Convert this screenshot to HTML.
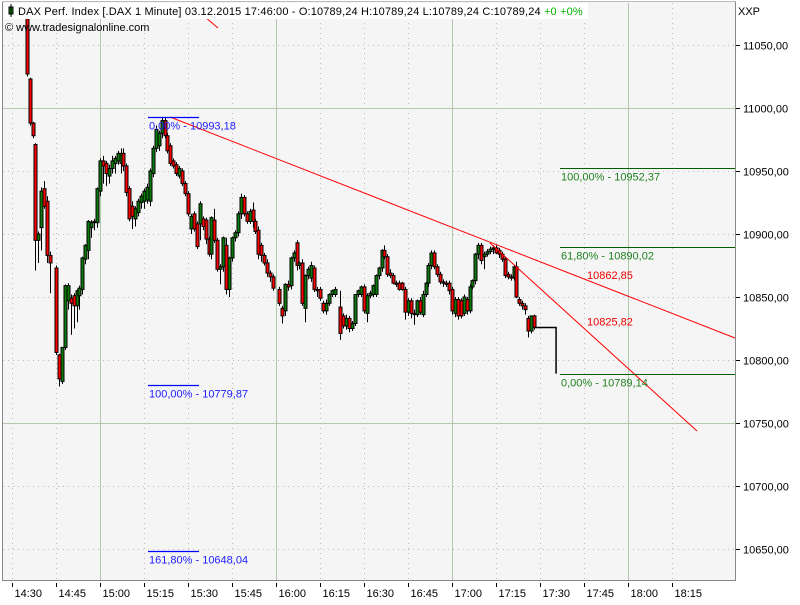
<!DOCTYPE html>
<html><head><meta charset="utf-8"><style>
body{margin:0;background:#fff;width:800px;height:600px;overflow:hidden;font-family:"Liberation Sans",sans-serif}
svg text{font-family:"Liberation Sans",sans-serif;font-size:11px}
</style></head><body>
<svg id="chart" width="800" height="600" xmlns="http://www.w3.org/2000/svg">
<rect x="2" y="2" width="733" height="578" fill="#f5f5f5"/>
<g id="grid"></g>
<g id="candles"></g>
<g id="overlay"></g>
<line x1="735.5" y1="2" x2="735.5" y2="580" stroke="#888"/>
<line x1="2" y1="580.5" x2="736" y2="580.5" stroke="#888"/>
<line x1="2.5" y1="2" x2="2.5" y2="580" stroke="#888"/>
<line x1="2" y1="1.5" x2="736" y2="1.5" stroke="#bbb"/>
<rect x="4" y="3" width="584" height="16" fill="#fff"/>
<rect x="9" y="7" width="4" height="7" fill="#108010" stroke="#000" stroke-width="1"/>
<line x1="11" y1="4" x2="11" y2="17" stroke="#000"/>
<text x="18" y="15" fill="#000" letter-spacing="0.15">DAX Perf. Index [.DAX  1 Minute] 03.12.2015 17:46:00 - O:10789,24 H:10789,24 L:10789,24 C:10789,24 <tspan fill="#00b000">+0 +0%</tspan></text>
<text x="5" y="31" fill="#000">© www.tradesignalonline.com</text>
<text x="738" y="15" fill="#000">XXP</text>
<g id="axes"></g>
</svg>
<script>
const times=[5,6,7,8,9,10,11,12,13,15,16,17,18,19,20,21,22,23,24,25,26,27,28,29,30,31,32,33,34,35,36,37,38,39,40,41,42,43,44,45,46,47,48,49,50,51,52,53,54,55,56,57,58,59,60,61,62,63,64,65,66,67,68,69,70,71,72,73,74,75,76,77,78,79,80,81,82,83,84,85,86,87,88,89,91,92,93,94,95,96,97,98,99,100,101,102,103,104,105,106,107,108,109,110,112,113,114,115,116,117,118,119,120,121,122,123,124,125,126,127,128,129,130,131,132,133,134,135,136,137,138,139,140,141,142,143,144,145,146,147,148,149,150,151,152,153,154,155,156,157,158,159,160,161,162,163,164,165,166,167,168,169,170,171,172,173,174,175,176,177,178];
const opens=[11081,11023,10988,10971,10895,10905,10936,10926,10883,10873,10804,10783,10810,10847,10849,10851,10843,10851,10856,10880,10887,10905,10909,10909,10934,10958,10956,10946,10952,10956,10958,10956,10964,10954,10936,10922,10912,10917,10925,10926,10927,10926,10948,10968,10970,10980,10990,10978,10970,10958,10955,10946,10950,10940,10932,10904,10916,10908,10908,10912,10911,10896,10884,10911,10895,10872,10874,10891,10856,10881,10897,10901,10916,10929,10916,10910,10919,10910,10903,10891,10883,10877,10869,10866,10856,10841,10839,10860,10859,10881,10893,10875,10877,10841,10867,10865,10873,10856,10856,10845,10839,10845,10852,10852,10842,10835,10827,10833,10825,10829,10852,10852,10858,10837,10851,10852,10852,10867,10873,10887,10882,10869,10867,10861,10861,10861,10856,10838,10847,10837,10836,10847,10836,10852,10861,10875,10885,10874,10868,10862,10861,10861,10856,10837,10848,10847,10837,10848,10839,10858,10863,10884,10891,10882,10884,10886,10888,10889,10887,10884,10880,10868,10866,10865,10874,10848,10845,10843,10833,10823,10835];
const highs=[11083,11024,10989,10972,10902,10937,10942,10930,10886,10875,10805,10810,10860,10861,10852,10853,10856,10859,10882,10892,10911,10911,10912,10937,10960,10962,10958,10955,10962,10962,10966,10968,10968,10956,10938,10926,10922,10928,10932,10936,10940,10952,10970,10986,10982,10993,10993,10980,10972,10960,10957,10954,10952,10942,10934,10916,10918,10910,10926,10914,10913,10898,10914,10920,10897,10876,10898,10897,10882,10898,10903,10918,10932,10931,10918,10920,10925,10912,10906,10893,10885,10880,10871,10868,10858,10843,10861,10863,10882,10887,10895,10878,10880,10868,10874,10878,10875,10858,10858,10847,10848,10853,10856,10858,10855,10837,10836,10835,10831,10852,10856,10859,10860,10853,10855,10860,10868,10874,10888,10891,10884,10872,10869,10863,10863,10862,10858,10849,10849,10840,10848,10850,10855,10862,10877,10887,10887,10876,10870,10864,10863,10863,10858,10850,10850,10849,10852,10850,10860,10864,10885,10893,10893,10886,10888,10890,10891,10891,10889,10886,10882,10870,10868,10875,10878,10850,10847,10845,10835,10835,10836];
const lows=[11025,10986,10976,10871,10877,10887,10920,10877,10853,10804,10779,10781,10808,10840,10820,10825,10830,10840,10852,10876,10880,10897,10903,10905,10930,10940,10938,10940,10948,10948,10955,10948,10950,10930,10910,10904,10906,10914,10920,10920,10924,10922,10945,10965,10966,10976,10976,10964,10954,10952,10946,10944,10938,10930,10914,10900,10902,10888,10895,10903,10892,10882,10880,10893,10870,10860,10870,10852,10850,10878,10894,10898,10912,10914,10908,10908,10905,10900,10880,10878,10875,10866,10862,10855,10843,10829,10835,10855,10856,10878,10871,10872,10843,10830,10864,10862,10854,10850,10847,10837,10836,10843,10850,10850,10816,10825,10824,10822,10823,10827,10850,10850,10837,10830,10849,10850,10850,10864,10870,10880,10866,10865,10860,10858,10855,10855,10832,10835,10833,10828,10834,10836,10834,10850,10858,10872,10872,10866,10860,10858,10858,10852,10836,10834,10832,10833,10835,10836,10837,10856,10860,10880,10876,10872,10882,10884,10884,10884,10881,10878,10865,10864,10863,10863,10849,10843,10840,10836,10818,10821,10824];
const closes=[11027,10988,10978,10895,10900,10934,10922,10883,10877,10806,10785,10810,10859,10859,10845,10843,10855,10857,10881,10891,10910,10909,10910,10936,10958,10954,10948,10952,10958,10960,10964,10964,10954,10933,10912,10914,10920,10926,10930,10934,10937,10950,10968,10983,10980,10990,10978,10966,10956,10954,10948,10952,10940,10932,10916,10914,10904,10890,10924,10906,10896,10884,10913,10895,10872,10874,10897,10856,10881,10897,10901,10916,10929,10916,10910,10918,10910,10902,10884,10883,10877,10869,10866,10857,10845,10835,10860,10858,10881,10885,10875,10877,10845,10867,10872,10875,10856,10855,10849,10839,10845,10852,10855,10856,10821,10827,10833,10825,10829,10852,10855,10858,10839,10851,10853,10859,10867,10873,10887,10882,10868,10867,10861,10860,10856,10856,10838,10847,10837,10836,10847,10838,10852,10861,10875,10885,10874,10868,10862,10861,10860,10855,10839,10848,10835,10835,10850,10839,10858,10863,10884,10891,10879,10884,10886,10888,10889,10885,10884,10880,10867,10866,10865,10874,10850,10845,10843,10840,10823,10835,10825.82];
const lastPrice=10789.14;
const yTicks=[11050,11000,10950,10900,10850,10800,10750,10700,10650];
const yTickLabels=["11050,00","11000,00","10950,00","10900,00","10850,00","10800,00","10750,00","10700,00","10650,00"];
const xTicks=[0,15,30,45,60,75,90,105,120,135,150,165,180,195,210,225];
const xTickLabels=["14:30","14:45","15:00","15:15","15:30","15:45","16:00","16:15","16:30","16:45","17:00","17:15","17:30","17:45","18:00","18:15"];
const fibBlue=[[0,10993.18,"0,00% - 10993,18"],[1,10779.87,"100,00% - 10779,87"],[1.618,10648.04,"161,80% - 10648,04"]];
const fibGreen=[[1,10952.37,"100,00% - 10952,37"],[0.618,10890.02,"61,80% - 10890,02"],[0,10789.14,"0,00% - 10789,14"]];
const redLabels=[[10862.85,"10862,85"],[10825.82,"10825,82"]];

const X=m=>12+m*2.933;
const Y=p=>108+(11000-p)*1.26;
const NS="http://www.w3.org/2000/svg";
function mk(tag,attrs,parent){const e=document.createElementNS(NS,tag);for(const k in attrs)e.setAttribute(k,attrs[k]);parent.appendChild(e);return e;}
const grid=document.getElementById('grid'),cg=document.getElementById('candles'),ov=document.getElementById('overlay'),ax=document.getElementById('axes');

yTicks.forEach((v,i)=>{
  const y=Math.round(Y(v))+0.5;const solid=(v===11000||v===10750);
  const l=mk('line',{x1:3,x2:735,y1:y,y2:y,stroke:solid?'#b4c8b0':'#bbb','stroke-dasharray':solid?'none':'1,4'},grid);
  
  
  const t=mk('line',{x1:736,x2:740,y1:y,y2:y,stroke:'#000'},ax);
  
  
  const tx=mk('text',{x:743,y:y+4,fill:'#000'},ax);tx.textContent=yTickLabels[i];
  
  
});
xTicks.forEach((m,i)=>{
  const x=Math.round(X(m))+0.5;const solid=(m%60===30);
  const l=mk('line',{x1:x,x2:x,y1:3,y2:580,stroke:solid?'#b4c8b0':'#bbb','stroke-dasharray':solid?'none':'1,4'},grid);
  
  
  const t=mk('line',{x1:x,x2:x,y1:583,y2:587,stroke:'#000'},ax);
  
  
  const tx=mk('text',{x:x+2,y:597,fill:'#000'},ax);tx.textContent=xTickLabels[i];
  
  
});

times.forEach((m,i)=>{
  const x=Math.round(X(m))+0.5,o=opens[i],c=closes[i];
  const w=mk('line',{x1:x,x2:x,y1:Y(highs[i]),y2:Y(lows[i]),stroke:'#000'},cg);
  
  
  const top=Y(Math.max(o,c)),bot=Y(Math.min(o,c));
  const b=mk('rect',{x:x-1.5,y:top,width:3,height:Math.max(1,bot-top),fill:c>=o?'#0a7a0a':'#ff0000',stroke:'#000','stroke-width':1},cg);
  
  
});
const lastM=times[times.length-1],dropM=185.5;
const ah=mk('polyline',{points:`${X(lastM)},${Y(closes[closes.length-1])} ${X(dropM)},${Y(closes[closes.length-1])} ${X(dropM)},${Y(lastPrice)}`,fill:'none',stroke:'#000','stroke-width':1.5},cg);



const tl1=mk('line',{x1:170,y1:117,x2:735,y2:338,stroke:'#ff0000'},ov);


const tl2=mk('line',{x1:490,y1:243,x2:697,y2:431,stroke:'#ff0000'},ov);


const tl3=mk('line',{x1:205,y1:17,x2:218,y2:28,stroke:'#ff0000'},ov);



fibBlue.forEach(f=>{
  const y=Math.round(Y(f[1]))+0.5;
  const l=mk('line',{x1:148,x2:199,y1:y,y2:y,stroke:'#0000ff','stroke-width':1.2},ov);
  
  
  const t=mk('text',{x:149,y:y+12,fill:'#2020ff'},ov);t.textContent=f[2];
  
  
});
fibGreen.forEach(f=>{
  const y=Math.round(Y(f[1]))+0.5;
  const l=mk('line',{x1:560,x2:735,y1:y,y2:y,stroke:'#006000'},ov);
  
  
  const t=mk('text',{x:561,y:y+12,fill:'#208020'},ov);t.textContent=f[2];
  
  
});
redLabels.forEach(r=>{
  const t=mk('text',{x:587,y:Y(r[0])-2,fill:'#ee0000'},ov);t.textContent=r[1];
  
  
});
</script>
</body></html>
